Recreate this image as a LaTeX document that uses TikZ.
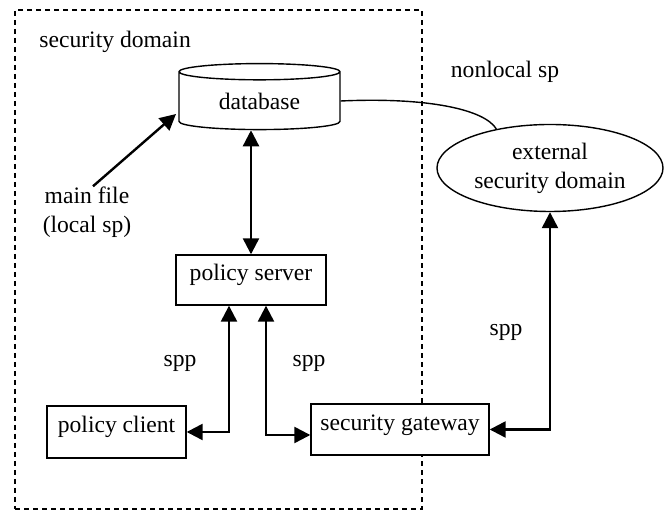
\documentclass[tikz,border=0pt]{standalone}
\usepackage{fontspec}
\setmainfont{Liberation Serif}
\usetikzlibrary{arrows.meta,shapes.geometric}

\begin{document}
\begin{tikzpicture}[x=0.5pt, y=-0.5pt, font=\fontsize{11.8}{14.5}\selectfont,
  box/.style={draw, rectangle, line width=0.7pt, fill=white, inner sep=0pt, text height=8pt, text depth=7pt},
  lbl/.style={inner sep=0pt, align=center},
  link/.style={line width=1.2pt, -{Triangle[length=8pt, width=8pt]}},
  biarrow/.style={line width=1.2pt, {Triangle[length=8pt, width=8pt]}-{Triangle[length=8pt, width=8pt]}}]
\useasboundingbox (0,0) rectangle (665,512);

\node[draw, dash pattern=on 2.5pt off 2pt, line width=0.7pt, minimum width=203.5pt, minimum height=249.5pt, inner sep=0pt] (sdom) at (218.5,259.5) {};
\node[lbl, anchor=west] (sdomlbl) at (39,42) {security domain};
\node[lbl] (nonloc) at (505,72) {nonlocal sp};
\node[lbl] (mfile) at (87,212) {main file\\(local sp)};

\node[cylinder, draw, shape border rotate=90, aspect=0.2, minimum width=80.5pt, minimum height=33pt, line width=0.7pt, inner sep=0pt] (dbase) at (259.5,101) {database};
\node[box, minimum width=75pt, minimum height=25pt] (srv) at (251,280) {policy server};
\node[box, minimum width=69.5pt, minimum height=26pt] (client) at (116.5,432) {policy client};
\node[box, minimum width=89pt, minimum height=25.5pt] (gway) at (400,429.5) {security gateway};
\node[ellipse, draw, line width=0.7pt, minimum width=113pt, minimum height=43.5pt, inner sep=0pt, align=center] (extdom) at (550,168) {external\\security domain};

\node[lbl] (spp1) at (180,363) {spp};
\node[lbl] (spp2) at (309,363) {spp};
\node[lbl] (spp3) at (506,332) {spp};

\coordinate (mtip) at (176,114);
\draw[link] ([xshift=3pt]mfile.north) -- (mtip);
\draw[biarrow] (srv.north |- dbase.south) -- (srv.north);
\draw[biarrow] ([xshift=-11pt]srv.south) |- (client.east);
\draw[biarrow] ([xshift=7.5pt]srv.south) |- ([yshift=-2.75pt]gway.west);
\draw[biarrow] (gway.east) -| (extdom.south);
\draw[line width=0.7pt] (dbase.east) .. controls (430,97) and (485,110) .. (extdom.144);
\end{tikzpicture}
\end{document}
